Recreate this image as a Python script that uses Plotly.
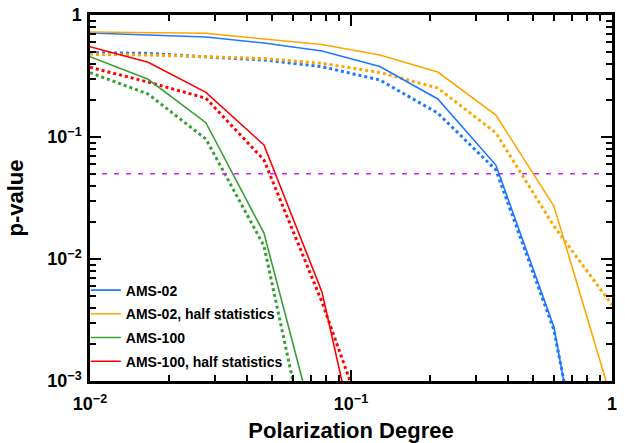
import plotly.graph_objects as go

# Polarization degree grid (log-spaced)
pol_degree = [0.01, 0.0167, 0.0278, 0.0464, 0.0774, 0.129, 0.215, 0.359, 0.599, 1.0]

# Solid curves (legend entries)
ams02 = [0.712, 0.686, 0.660, 0.589, 0.507, 0.378, 0.205, 0.0589, 0.00277, 6.7e-6]
ams02_half = [0.726, 0.719, 0.708, 0.636, 0.573, 0.470, 0.341, 0.151, 0.0272, 0.000686]
ams100 = [0.455, 0.297, 0.131, 0.0163, 2.5e-4]
ams100_half = [0.550, 0.410, 0.232, 0.0860, 0.00537, 4.1e-5]

# Dotted curves (not in legend)
ams02_dot = [0.491, 0.485, 0.453, 0.428, 0.377, 0.293, 0.157, 0.0537, 0.00262, 9.8e-6]
ams02_half_dot = [0.476, 0.470, 0.455, 0.440, 0.402, 0.338, 0.252, 0.108, 0.0186, 0.0042]
ams100_dot = [0.337, 0.225, 0.0963, 0.0128, 7.8e-5]
ams100_half_dot = [0.373, 0.282, 0.208, 0.0648, 0.00444, 2.05e-4]

threshold = 0.05

names = ["AMS-02", "AMS-02, half statistics", "AMS-100", "AMS-100, half statistics"]
colors = ["#1e78ff", "#ffa500", "#35a035", "#ff0000"]
solid = [ams02, ams02_half, ams100, ams100_half]
dotted = [ams02_dot, ams02_half_dot, ams100_dot, ams100_half_dot]

x_tickvals = [0.01, 0.1, 1]
x_ticktext = ["10<sup>−2</sup>", "10<sup>−1</sup>", "1"]
y_tickvals = [0.001, 0.01, 0.1, 1]
y_ticktext = ["10<sup>−3</sup>", "10<sup>−2</sup>", "10<sup>−1</sup>", "1"]

FONT = "Liberation Sans, Arial, Helvetica, sans-serif"

fig = go.Figure()

for name, col, ys in zip(names, colors, dotted):
    fig.add_trace(go.Scatter(x=pol_degree[:len(ys)], y=ys, mode="lines",
                             line=dict(color=col, width=3, dash="dot"),
                             showlegend=False, hoverinfo="skip"))

for name, col, ys in zip(names, colors, solid):
    fig.add_trace(go.Scatter(x=pol_degree[:len(ys)], y=ys, mode="lines", name=name,
                             legendgroup=name,
                             line=dict(color=col, width=1.6)))

fig.add_trace(go.Scatter(x=[pol_degree[0], pol_degree[-1]], y=[threshold, threshold],
                         mode="lines", line=dict(color="#cc22ff", width=1.6, dash="5px,7px"),
                         showlegend=False, hoverinfo="skip"))

minor_x = [m * 10 ** e for e in (-2, -1) for m in range(2, 10)]
minor_y = [m * 10 ** e for e in (-3, -2, -1) for m in range(2, 10)]

axis_common = dict(
    showline=True, linecolor="black", linewidth=2.5, mirror="ticks",
    ticks="inside", ticklen=11, tickwidth=2, tickcolor="black",
    showgrid=False, zeroline=False, automargin=False,
    tickfont=dict(family=FONT, size=18, color="black", weight="bold"),
)

fig.update_xaxes(type="log", range=[-2, 0], tickmode="array",
                 tickvals=x_tickvals, ticktext=x_ticktext, ticklabelstandoff=5,
                 minor=dict(tickvals=minor_x, ticks="inside", ticklen=6,
                            tickwidth=2, tickcolor="black"),
                 title=dict(text="Polarization Degree", standoff=11,
                            font=dict(family=FONT, size=22, color="black", weight="bold")),
                 **axis_common)
fig.update_yaxes(type="log", range=[-3, 0], tickmode="array",
                 tickvals=y_tickvals, ticktext=y_ticktext, ticklabelstandoff=2,
                 minor=dict(tickvals=minor_y, ticks="inside", ticklen=6,
                            tickwidth=2, tickcolor="black"),
                 title=dict(text="p-value", standoff=18,
                            font=dict(family=FONT, size=22, color="black", weight="bold")),
                 **axis_common)

fig.update_layout(
    width=625, height=443,
    margin=dict(l=90, r=13, t=15, b=62),
    plot_bgcolor="white", paper_bgcolor="white",
    legend=dict(x=-0.008, y=0.291, xanchor="left", yanchor="top",
                bgcolor="rgba(0,0,0,0)", borderwidth=0, tracegroupgap=2.5,
                font=dict(family=FONT, size=14, color="black", weight="bold")),
)

html = fig.to_html(include_plotlyjs=True, full_html=True,
                   config={"displayModeBar": False})
html = html.replace("<body>", '<body style="margin:0;padding:0;overflow:hidden;">', 1)
with open("out.html", "w", encoding="utf-8") as f:
    f.write(html)
